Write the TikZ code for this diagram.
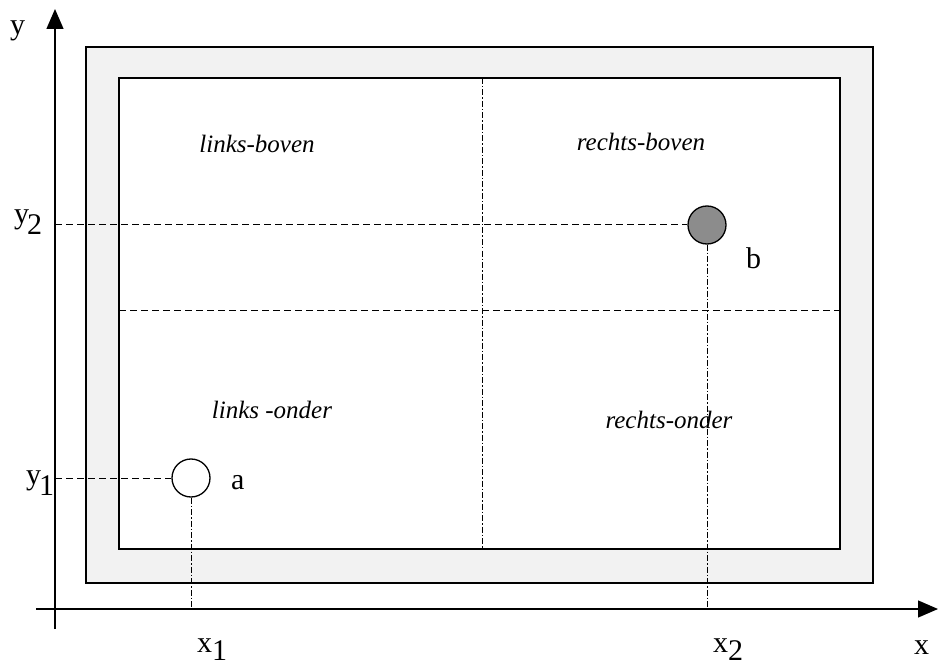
\documentclass[tikz,border=0pt]{standalone}
\usepackage{fontspec}
\setmainfont{Liberation Serif}
\usetikzlibrary{arrows.meta}
\definecolor{panel}{RGB}{242,242,242}
\definecolor{dotfill}{RGB}{140,140,140}
\tikzset{
  frame/.style={draw=black, line width=1.3pt},
  axisline/.style={draw=black, line width=1.3pt, -{Triangle[length=20pt,width=17pt]}},
  dashline/.style={draw=black, line width=1pt, dash pattern=on 7pt off 4pt},
  dashdotline/.style={draw=black, line width=1pt, dash pattern=on 6pt off 2pt on 1.5pt off 2pt},
  pt/.style={circle, draw=black, line width=1.3pt, minimum size=38pt, inner sep=0pt},
  lbl/.style={font=\fontsize{30}{30}\selectfont, inner sep=0pt, anchor=base west},
  region/.style={font=\fontsize{25}{25}\selectfont\itshape, inner sep=0pt, anchor=base},
}
\begin{document}
\begin{tikzpicture}[x=1pt, y=-1pt]
\useasboundingbox (0,0) rectangle (938,666);
% frames
\filldraw[frame, fill=panel] (86,47) rectangle (873,583);
\filldraw[frame, fill=white] (119,78) rectangle (840,549);
% axes
\coordinate (yb) at (55,629);
\coordinate (yt) at (55,9);
\coordinate (xl) at (36,609);
\coordinate (xr) at (938,609);
\draw[axisline] (yb) -- (yt);
\draw[axisline] (xl) -- (xr);
% quadrant lines
\coordinate (vt) at (482,78);
\coordinate (vb) at (482,549);
\coordinate (hl) at (119,310);
\coordinate (hr) at (840,310);
\draw[dashdotline] (vt) -- (vb);
\draw[dashline] (hl) -- (hr);
% points
\node[pt, fill=dotfill] (b) at (707,225) {};
\node[pt, fill=white] (a) at (191,478) {};
\coordinate (ay) at (55,478);
\coordinate (by) at (55,225);
\coordinate (ax) at (191,609);
\coordinate (bx) at (707,609);
\draw[dashline] (ay) -- (a.west);
\draw[dashline] (by) -- (b.west);
\draw[dashdotline] (a.south) -- (ax);
\draw[dashdotline] (b.south) -- (bx);
% labels
\node[lbl] (ylab) at (10,35) {y};
\node[lbl] (y2lab) at (14,224) {y\kern-2pt\raisebox{-11pt}{2}};
\node[lbl] (y1lab) at (26,484) {y\kern-2pt\raisebox{-11pt}{1}};
\node[lbl] (alab) at (231,489) {a};
\node[lbl] (blab) at (746,269) {b};
\node[lbl] (xlab) at (914,654) {x};
\node[lbl] (x1lab) at (197,652) {x\raisebox{-8pt}{1}};
\node[lbl] (x2lab) at (713,652) {x\raisebox{-8pt}{2}};
% region names
\node[region] (lb) at (257,153) {links-boven};
\node[region] (rb) at (641,151) {rechts-boven};
\node[region] (lo) at (272,418) {links -onder};
\node[region] (ro) at (669,428) {rechts-onder};
\end{tikzpicture}
\end{document}
